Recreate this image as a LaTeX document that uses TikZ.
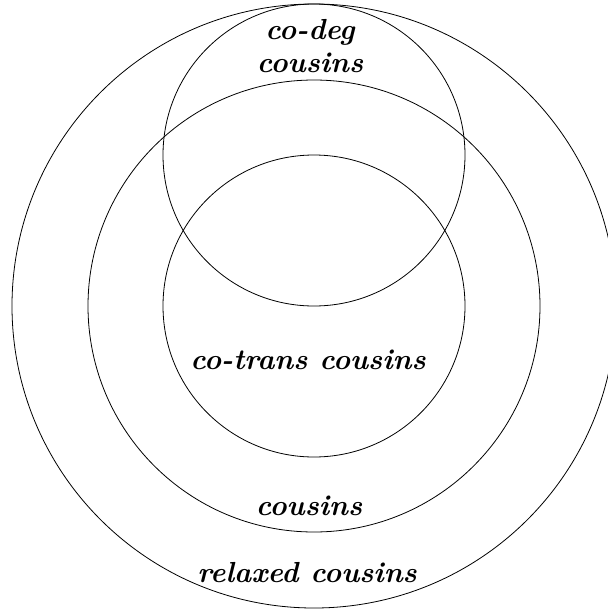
\documentclass[tikz,border=0pt]{standalone}
\begin{document}
\begin{tikzpicture}[x=1pt,y=-1pt,
  ring/.style={draw=black, line width=0.8pt},
  lbl/.style={font=\fontsize{29}{33}\selectfont\bfseries\itshape, align=center, inner sep=0pt}]
\useasboundingbox (0,0) rectangle (608,611);
\clip (0,0) rectangle (608,611);
\node[ring, circle, minimum size=604pt, inner sep=0pt] (relaxed) at (314,306) {};
\node[ring, circle, minimum size=452pt, inner sep=0pt] (cous) at (314,306) {};
\node[ring, circle, minimum size=302pt, inner sep=0pt] (cotrans) at (314,306) {};
\node[ring, circle, minimum size=302pt, inner sep=0pt] (codeg) at (314,155) {};
\node[lbl] (tcodeg) at (310,46) {co-deg\\cousins};
\node[lbl] (tcotrans) at (308,360) {co-trans cousins};
\node[lbl] (tcous) at (309,506) {cousins};
\node[lbl] (trelax) at (307,573) {relaxed cousins};
\end{tikzpicture}
\end{document}
